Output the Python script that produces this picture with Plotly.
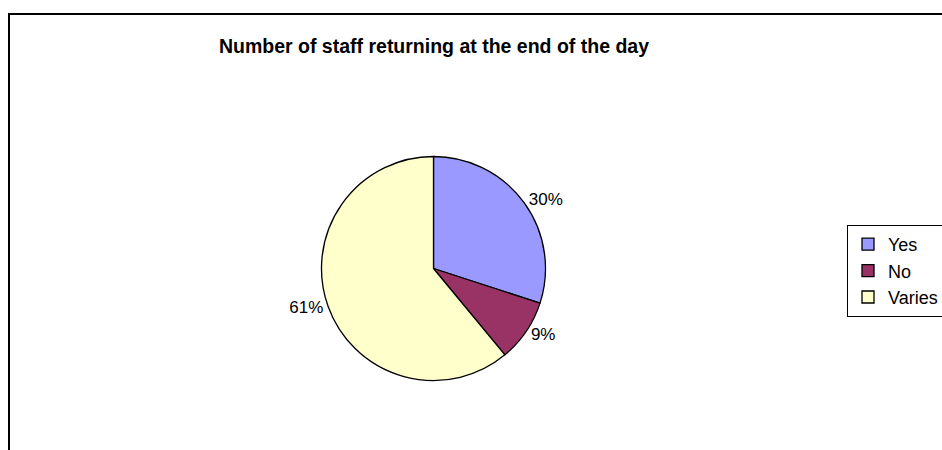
import plotly.graph_objects as go

labels = ["Yes", "No", "Varies"]
values = [30, 9, 61]
colors = ["#9999FF", "#993366", "#FFFFCC"]

W, H = 942, 450
FONT = "Liberation Sans, Arial"

cx, cy, r = 433.5, 268.5, 112

fig = go.Figure(go.Pie(
    labels=labels,
    values=values,
    sort=False,
    direction="clockwise",
    rotation=0,
    marker=dict(colors=colors, line=dict(color="black", width=1.3)),
    textinfo="percent",
    textposition="outside",
    textfont=dict(family=FONT, size=17, color="black"),
    domain=dict(x=[(cx - 160) / W, (cx + 160) / W],
                y=[1 - (cy + r) / H, 1 - (cy - r) / H]),
    showlegend=True,
))

fig.update_layout(
    width=W, height=H,
    margin=dict(l=0, r=0, t=0, b=0, autoexpand=False),
    paper_bgcolor="white",
    plot_bgcolor="white",
    font=dict(family=FONT, size=17, color="black"),
    title=dict(
        text="<b>Number of staff returning at the end of the day</b>",
        x=434 / W, xanchor="center",
        y=1 - 46 / H, yanchor="middle",
        font=dict(family=FONT, size=19.5, color="black"),
    ),
    legend=dict(
        x=847 / W, xanchor="left",
        y=1 - 225 / H, yanchor="top",
        bordercolor="black", borderwidth=1,
        bgcolor="white",
        font=dict(family=FONT, size=18, color="black"),
        itemwidth=30,
    ),
    shapes=[dict(
        type="rect", xref="paper", yref="paper",
        x0=9 / W, x1=1.05, y0=-0.05, y1=1 - 14 / H,
        line=dict(color="black", width=2),
        layer="below",
    )],
)

fig.write_html("out.html")
